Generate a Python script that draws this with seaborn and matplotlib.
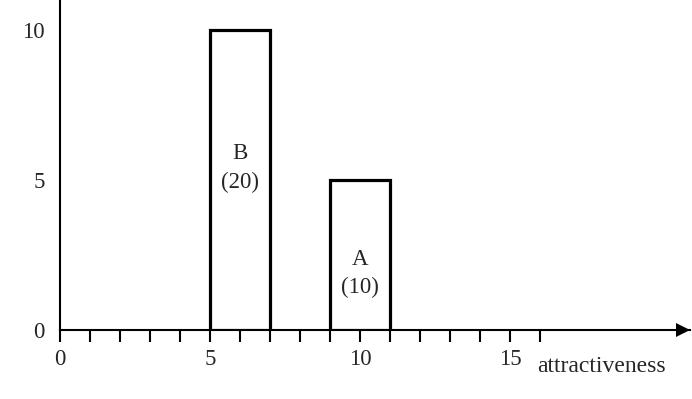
import matplotlib
matplotlib.use("Agg")
import matplotlib.pyplot as plt
import seaborn as sns
import pandas as pd

# data
names = ["B", "A"]
counts = ["(20)", "(10)"]
centers = [6, 10]
heights = [10, 5]
label_y = [5.4, 1.88]
x_ticks = list(range(0, 17))
x_ticklabels = ["0" if t == 0 else (str(t) if t % 5 == 0 else "") for t in x_ticks]
y_ticks = [0, 5, 10]
x_label = "attractiveness"

sns.set_style("white")
plt.rcParams["font.family"] = ["Liberation Serif", "DejaVu Serif"]
FS = 16.5

fig = plt.figure(figsize=(6.92, 3.99), dpi=100)
ax = fig.add_axes([60 / 692, 69 / 399, 630 / 692, 330 / 399])

df = pd.DataFrame({"x": centers, "h": heights})
sns.barplot(data=df, x="x", y="h", native_scale=True, width=0.5,
            color="white", edgecolor="black", linewidth=2.3, ax=ax, zorder=3)

for n, c, cx, ly in zip(names, counts, centers, label_y):
    ax.text(cx, ly, f"{n}\n{c}", ha="center", va="center", fontsize=FS,
            linespacing=1.45)

ax.set_xlim(0, 21)
ax.set_ylim(0, 11)
sns.despine(ax=ax, top=True, right=True)
for s in ["left", "bottom"]:
    ax.spines[s].set_linewidth(1.5)
    ax.spines[s].set_color("black")

ax.set_xticks(x_ticks)
ax.set_xticklabels(x_ticklabels, fontsize=FS)
ax.set_yticks(y_ticks)
ax.set_yticklabels([str(v) for v in y_ticks], fontsize=FS)
ax.tick_params(axis="x", direction="out", length=8.5, width=1.5, pad=5,
               color="black", bottom=True)
ax.tick_params(axis="y", length=0, pad=11, left=True)
ax.set_xlabel("")
ax.set_ylabel("")

ax.plot([20.78], [0], marker=">", markersize=10, color="black",
        clip_on=False, markeredgewidth=0, zorder=5)

ax.text(15.9, -1.2, x_label, ha="left", va="center", fontsize=FS + 0.5,
        clip_on=False)

fig.savefig("out.png", dpi=100)
